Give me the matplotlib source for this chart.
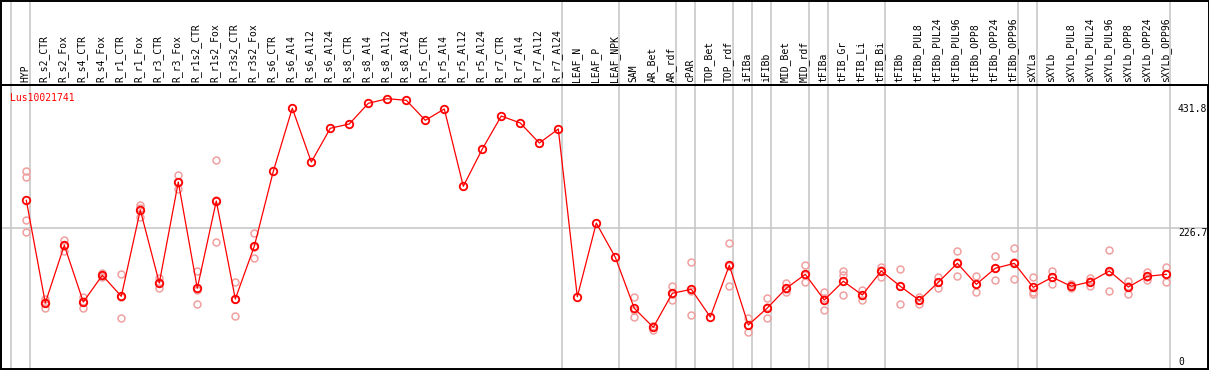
import matplotlib
matplotlib.use("Agg")
import matplotlib.pyplot as plt
import matplotlib.transforms as mtransforms
import matplotlib.patches as mpatches

gene = "Lus10021741"

categories = [
    "HYP", "R_s2_CTR", "R_s2_Fox", "R_s4_CTR", "R_s4_Fox", "R_r1_CTR", "R_r1_Fox",
    "R_r3_CTR", "R_r3_Fox", "R_r1s2_CTR", "R_r1s2_Fox", "R_r3s2_CTR", "R_r3s2_Fox",
    "R_s6_CTR", "R_s6_Al4", "R_s6_Al12", "R_s6_Al24", "R_s8_CTR", "R_s8_Al4",
    "R_s8_Al12", "R_s8_Al24", "R_r5_CTR", "R_r5_Al4", "R_r5_Al12", "R_r5_Al24",
    "R_r7_CTR", "R_r7_Al4", "R_r7_Al12", "R_r7_Al24", "LEAF_N", "LEAF_P", "LEAF_NPK",
    "SAM", "AR_Bet", "AR_rdf", "cPAR", "TOP_Bet", "TOP_rdf", "iFIBa", "iFIBb",
    "MID_Bet", "MID_rdf", "tFIBa", "tFIB_Gr", "tFIB_Li", "tFIB_Bi", "tFIBb",
    "tFIBb_PUL8", "tFIBb_PUL24", "tFIBb_PUL96", "tFIBb_OPP8", "tFIBb_OPP24",
    "tFIBb_OPP96", "sXYLa", "sXYLb", "sXYLb_PUL8", "sXYLb_PUL24", "sXYLb_PUL96",
    "sXYLb_OPP8", "sXYLb_OPP24", "sXYLb_OPP96",
]

# group sizes (vertical separators are drawn between groups)
group_sizes = [1, 28, 3, 3, 1, 2, 1, 1, 2, 1, 3, 7, 1, 7]

means = [
    272.9, 103.1, 198.5, 104.7, 148.9, 114.1, 256.9, 136.1, 303.2, 127.4,
    271.8, 109.7, 196.9, 320.9, 425.3, 336.3, 392.1, 399.2, 433.4, 441.0,
    438.4, 405.3, 424.0, 296.1, 357.8, 412.4, 400.8, 367.7, 390.9, 113.3,
    235.2, 178.7, 94.3, 62.9, 119.1, 125.7, 79.9, 165.4, 66.7, 94.8,
    127.4, 150.5, 108.0, 139.0, 116.3, 156.0, 130.7, 107.5, 137.3, 168.7,
    134.0, 160.5, 168.7, 129.0, 145.6, 130.7, 138.3, 156.0, 129.5, 147.2,
    150.5,
]

replicates = [
    [321.4, 311.0, 239.9, 220.0], [109.7, 104.3, 95.3], [207.9, 198.0, 189.6],
    [113.5, 106.3, 94.3], [152.2, 148.0, 146.6], [151.0, 113.6, 77.7],
    [265.2, 259.7, 245.8], [143.9, 137.0, 127.4], [314.3, 303.7, 291.6],
    [155.5, 125.3, 101.4], [339.1, 272.8, 203.5], [137.3, 110.2, 81.6],
    [218.4, 195.3, 177.0],
    [], [], [], [], [], [], [], [], [], [], [], [], [], [], [], [], [], [], [],
    [113.0, 90.7, 79.4], [65.5, 64.8, 58.4], [131.2, 118.6, 107.5],
    [170.4, 123.5, 83.2], [], [201.8, 163.7, 130.7], [77.7, 66.8, 55.6],
    [110.8, 95.9, 77.7], [135.6, 125.8, 120.8], [165.4, 148.8, 137.3],
    [121.3, 111.7, 91.0], [156.0, 149.4, 116.3], [125.1, 115.8, 108.0],
    [163.1, 158.3, 146.6], [158.8, 131.4, 101.9], [113.5, 107.6, 101.4],
    [146.6, 137.4, 127.9], [188.6, 170.3, 147.2], [147.2, 134.0, 120.8],
    [180.3, 160.6, 140.6], [193.5, 170.3, 142.3], [146.1, 121.8, 117.9],
    [156.0, 145.8, 135.0], [134.5, 129.7, 127.9], [144.4, 139.3, 131.2],
    [190.7, 154.4, 122.9], [139.5, 130.6, 118.4], [153.8, 146.7, 141.1],
    [162.6, 150.6, 138.3],
]

tick_values = [431.8, 226.7, 0]
tick_labels = ["431.8", "226.7", "0"]

W, H = 1209, 370
fig = plt.figure(figsize=(W / 100, H / 100), dpi=100)
fig.patch.set_facecolor("white")

# plot region in pixels
px_left, px_right, px_top, px_bot = 1, 1208, 85, 369
ax = fig.add_axes([px_left / W, (H - px_bot) / H,
                   (px_right - px_left) / W, (px_bot - px_top) / H])

x = list(range(len(categories)))
# x: category i at pixel 26.3 + 19*i ; y: value v at pixel 365.3 - 0.6045*v
ax.set_xlim((px_left - 26.3) / 19, (px_right - 26.3) / 19)
ax.set_ylim((365.3 - px_bot) / 0.6045, (365.3 - px_top) / 0.6045)
ax.set_xticks([])
ax.set_yticks([])
for s in ax.spines.values():
    s.set_color("black")
    s.set_linewidth(1.4)

mono = "DejaVu Sans Mono"
grid_c = "#c4c4c4"

# vertical separators (extend through the header)
ext = (px_bot - 0) / (px_bot - px_top)
bounds = [-1]
acc = -1
for g in group_sizes:
    acc += g
    bounds.append(acc)
for b in bounds:
    ax.axvline(b + 4 / 19, ymin=0, ymax=ext, color=grid_c, lw=1.1, clip_on=False, zorder=1)

# horizontal gridline
ax.axhline(tick_values[1], color=grid_c, lw=1.1, zorder=1)

# replicates
for i, reps in enumerate(replicates):
    if reps:
        ax.plot([i] * len(reps), reps, linestyle="none", marker="o",
                markersize=5.0, markerfacecolor="none", markeredgecolor="#f0a0a0",
                markeredgewidth=1.1, zorder=2)

# mean line
ax.plot(x, means, color="red", lw=0.9, marker="o", markersize=5.4,
        markerfacecolor="none", markeredgecolor="red", markeredgewidth=1.3, zorder=3)

# header labels
trans = mtransforms.blended_transform_factory(ax.transData, ax.transAxes)
for i, lab in enumerate(categories):
    ax.text(i - 0.05, 1 + 2.5 / (px_bot - px_top), lab, rotation=90, ha="center", va="bottom",
            family=mono, fontsize=7, color="black", transform=trans, clip_on=False)

# header separator line
ax.plot([0, 1], [1, 1], transform=ax.transAxes, color="black", lw=1.4, clip_on=False)

# gene id
ax.text((10 - px_left) / (px_right - px_left), (px_bot - 97.7) / (px_bot - px_top), gene,
        color="red", family=mono, fontsize=7, ha="left", va="center", transform=ax.transAxes)

# value labels on right
tx = mtransforms.blended_transform_factory(ax.transAxes, ax.transData)
xf = (1178 - px_left) / (px_right - px_left)
for v, t in zip(tick_values, tick_labels):
    ax.text(xf, v, t, family=mono, fontsize=7, ha="left",
            va="top" if v > 0 else "baseline", transform=tx, clip_on=False)

# outer frame
fig.patches.append(mpatches.Rectangle((0.5 / W, 0.5 / H), (W - 1) / W, (H - 1) / H,
                                      transform=fig.transFigure, fill=False,
                                      edgecolor="black", lw=1.4))

fig.savefig("out.png", dpi=100, facecolor="white")
